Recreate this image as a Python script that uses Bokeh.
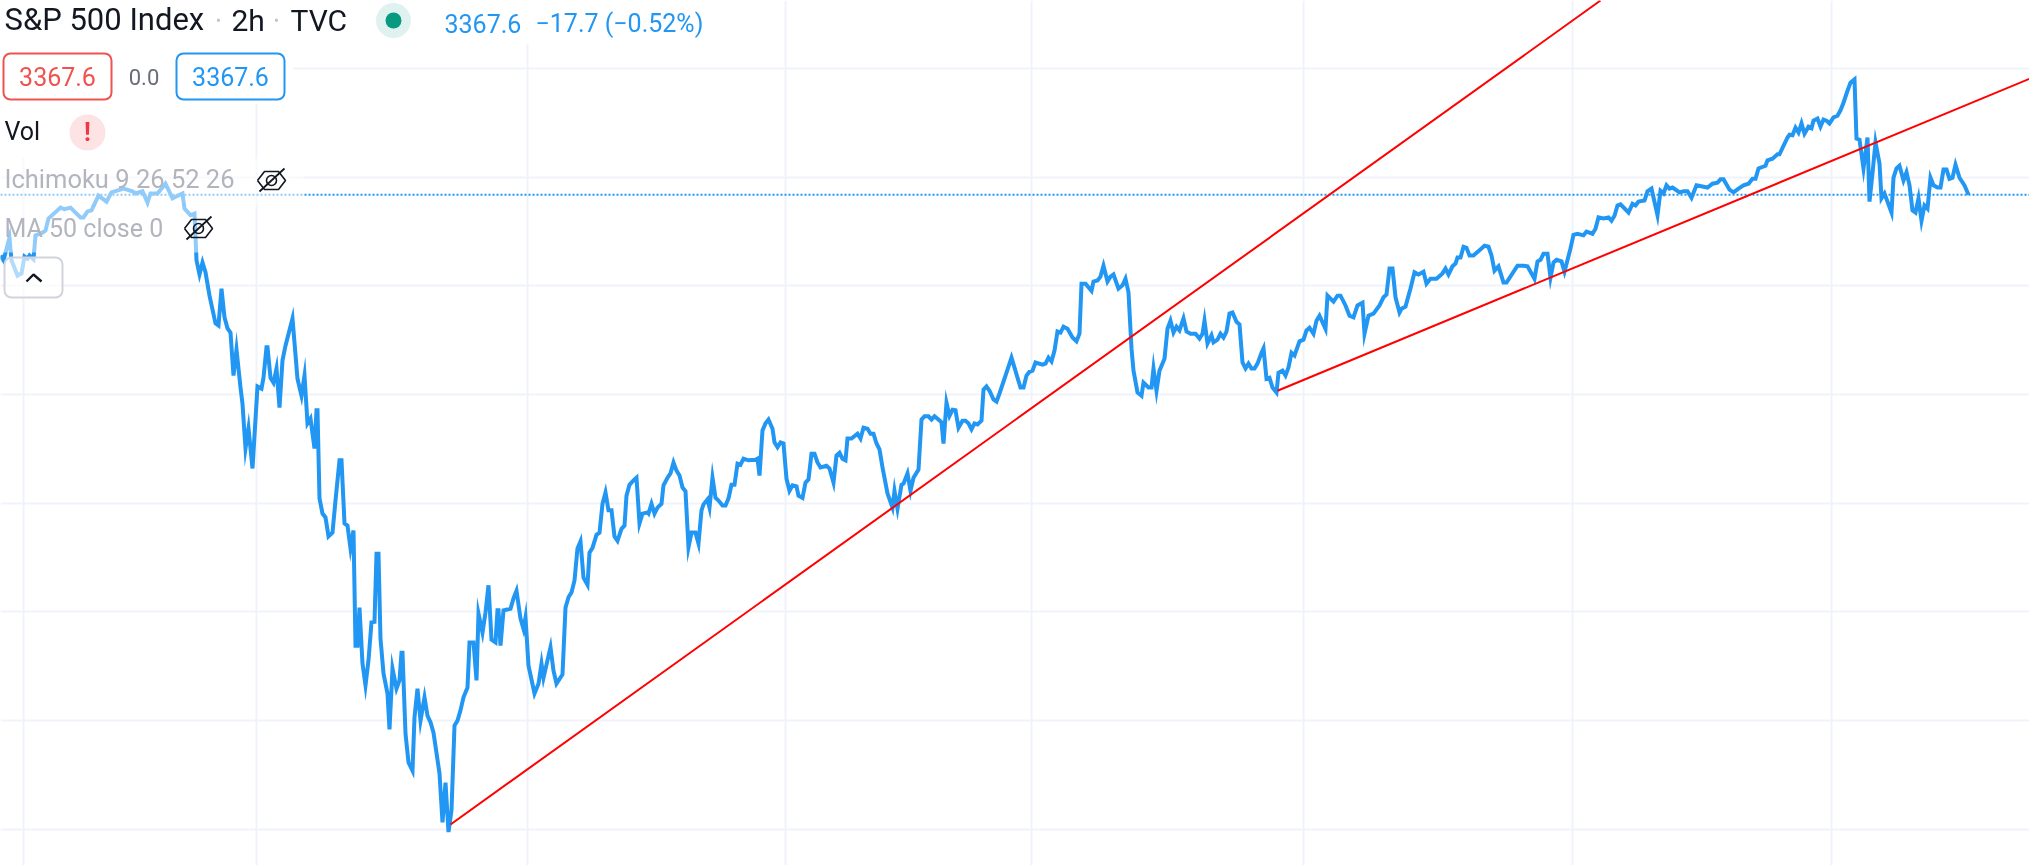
from bokeh.plotting import figure
from bokeh.embed import file_html
from bokeh.resources import INLINE
from bokeh.core.properties import value
from bokeh.models import Range1d, FixedTicker

# ---- data: bar position and 2h close of the S&P 500 ----
bar_x = [0,3,9,11,17,21,24,27,29,33,35,42,45,48,60,64,70,80,83,87,91,98,106,111,123,132,135,142,147,150,157,165,172,182,184,190,194,196,199,202,205,209,215,218,221,224,227,230,233,236,240,242,245,248,252,257,261,263,266,267,270,273,276,279,282,285,292,297,301,304,307,310,314,316,317,319,322,325,328,332,335,339,341,344,347,350,353,355,357,359,362,365,368,371,374,376,378,380,383,387,389,392,396,399,401,402,405,408,412,414,417,420,424,427,430,433,439,442,445,448,451,454,457,460,463,467,469,473,476,478,482,485,488,491,495,497,498,500,503,510,513,516,520,523,525,528,534,538,541,543,550,553,556,562,565,568,571,574,577,580,583,587,589,592,596,599,602,605,608,611,614,617,621,624,626,629,633,636,639,642,647,648,651,654,657,661,663,667,670,673,676,679,682,685,688,691,695,698,701,703,707,709,712,715,718,722,725,728,731,734,737,740,743,748,755,757,759,762,765,768,772,774,777,780,783,786,789,792,796,798,802,805,808,811,814,817,820,826,829,833,836,839,842,845,847,851,857,860,863,867,870,873,876,879,882,887,892,894,897,901,903,907,910,913,918,921,924,928,931,934,938,941,943,946,949,952,955,958,962,965,968,971,974,977,981,983,986,989,993,996,999,1005,1011,1020,1023,1026,1029,1032,1035,1042,1045,1048,1051,1054,1057,1060,1063,1067,1072,1076,1079,1081,1085,1091,1093,1097,1100,1103,1107,1110,1113,1118,1122,1125,1128,1131,1133,1137,1141,1143,1148,1151,1153,1156,1159,1164,1167,1170,1173,1176,1179,1183,1186,1190,1195,1199,1202,1204,1207,1211,1213,1217,1220,1223,1226,1229,1232,1236,1239,1242,1245,1248,1251,1254,1257,1261,1263,1266,1269,1272,1276,1278,1282,1285,1288,1291,1294,1299,1303,1306,1309,1313,1316,1319,1325,1327,1333,1337,1340,1345,1349,1353,1357,1362,1364,1368,1373,1379,1383,1386,1389,1392,1395,1399,1401,1405,1410,1414,1418,1423,1426,1430,1436,1442,1445,1448,1452,1455,1457,1460,1463,1466,1469,1473,1481,1484,1488,1491,1494,1498,1503,1506,1517,1523,1527,1534,1537,1540,1543,1547,1550,1553,1556,1561,1564,1570,1573,1577,1583,1586,1592,1595,1598,1603,1608,1611,1614,1617,1620,1628,1632,1635,1638,1644,1647,1651,1657,1660,1663,1666,1669,1672,1679,1683,1687,1691,1696,1707,1712,1717,1720,1723,1729,1733,1738,1743,1748,1752,1755,1758,1765,1767,1772,1777,1779,1787,1789,1792,1795,1798,1801,1804,1808,1811,1813,1817,1820,1823,1826,1829,1833,1837,1840,1843,1847,1850,1854,1856,1859,1863,1867,1869,1872,1875,1879,1881,1884,1891,1893,1896,1899,1903,1906,1909,1912,1915,1918,1921,1924,1927,1930,1933,1937,1940,1943,1946,1949,1952,1955,1959,1964,1968]
close = [3256,3247,3289,3247,3219,3223,3254,3250,3256,3249,3293,3298,3302,3324,3344,3341,3344,3326,3326,3337,3339,3366,3355,3372,3379,3374,3370,3374,3353,3370,3370,3388,3361,3370,3342,3330,3333,3247,3221,3243,3225,3182,3131,3127,3195,3142,3122,3114,3035,3083,3013,2983,2901,2938,2864,3015,3011,3031,3087,3087,3031,3022,3048,2976,3063,3090,3140,3029,2998,3035,2947,2956,2901,2971,2971,2809,2781,2774,2739,2746,2805,2879,2879,2763,2759,2717,2750,2538,2538,2608,2505,2465,2511,2581,2582,2707,2707,2551,2487,2450,2384,2496,2459,2474,2525,2525,2376,2323,2308,2406,2459,2400,2443,2409,2397,2378,2303,2213,2286,2195,2235,2391,2400,2419,2443,2461,2544,2544,2474,2597,2562,2599,2649,2549,2544,2603,2603,2538,2603,2606,2625,2639,2588,2569,2590,2501,2450,2468,2505,2479,2535,2492,2468,2485,2608,2627,2636,2658,2717,2730,2663,2650,2709,2718,2742,2746,2799,2820,2787,2787,2739,2731,2753,2759,2814,2834,2842,2847,2763,2781,2783,2781,2799,2781,2792,2799,2833,2847,2855,2875,2860,2851,2829,2822,2719,2746,2746,2726,2787,2798,2807,2792,2847,2810,2805,2796,2796,2809,2834,2834,2873,2871,2882,2879,2880,2882,2851,2934,2947,2954,2937,2912,2903,2912,2910,2845,2823,2833,2831,2814,2810,2838,2844,2891,2891,2875,2866,2869,2864,2838,2888,2893,2882,2879,2919,2919,2928,2919,2939,2937,2928,2928,2910,2899,2866,2818,2792,2823,2790,2834,2836,2855,2823,2847,2862,2954,2960,2960,2954,2960,2954,2949,2910,2985,2961,2972,2971,2939,2952,2952,2947,2936,2947,2945,2952,3009,3015,3007,2991,2987,3002,3035,3068,3013,3013,3035,3042,3044,3059,3055,3057,3068,3061,3081,3116,3114,3125,3121,3105,3098,3112,3204,3204,3191,3208,3210,3217,3237,3208,3217,3221,3195,3201,3213,3188,3085,3044,3004,2998,3022,3013,3013,3048,3007,3044,3066,3121,3136,3114,3125,3118,3140,3116,3112,3112,3103,3112,3136,3094,3109,3096,3101,3112,3105,3116,3149,3151,3134,3129,3059,3048,3057,3048,3048,3057,3077,3085,3029,3031,3013,3004,3040,3044,3035,3050,3077,3072,3098,3101,3118,3123,3112,3136,3145,3121,3182,3171,3182,3182,3164,3145,3142,3164,3169,3112,3145,3149,3164,3179,3184,3232,3232,3179,3151,3158,3162,3195,3225,3221,3226,3204,3213,3213,3223,3232,3221,3236,3241,3252,3252,3272,3270,3256,3256,3269,3274,3272,3256,3228,3236,3206,3206,3237,3237,3236,3213,3245,3248,3259,3259,3215,3243,3248,3245,3226,3269,3294,3296,3293,3300,3296,3305,3326,3324,3326,3320,3329,3348,3350,3335,3351,3348,3355,3357,3374,3379,3330,3375,3370,3385,3379,3381,3372,3374,3374,3362,3385,3381,3388,3390,3396,3396,3377,3372,3379,3385,3388,3397,3397,3416,3421,3431,3434,3442,3442,3473,3478,3477,3491,3482,3499,3480,3493,3490,3504,3508,3493,3506,3504,3499,3510,3513,3523,3537,3559,3574,3580,3471,3469,3416,3473,3355,3407,3464,3425,3361,3370,3335,3399,3416,3421,3394,3409,3385,3339,3335,3361,3320,3348,3342,3399,3385,3381,3381,3414,3414,3397,3399,3423,3399,3385,3367.6]
last_price = 3367.6
price_levels = [2200, 2400, 2600, 2800, 3000, 3200, 3400, 3600]
period_bars = [23, 256, 527, 785, 1031, 1303, 1572, 1831]
trend_a_x = [450, 1600]
trend_a_y = [2209, 3725]
trend_b_x = [1277, 2029]
trend_b_y = [3007, 3581]

BLUE = "#2196F3"
FONT = value("Roboto")

p = figure(width=2029, height=865, output_backend="svg", toolbar_location=None,
           x_range=Range1d(0, 2029), y_range=Range1d(2133.5, 3725.1),
           min_border=0, min_border_left=0, min_border_right=0, min_border_top=0, min_border_bottom=0,
           outline_line_color=None, background_fill_color="white", border_fill_color="white")
p.styles = {"position": "fixed", "left": "0px", "top": "0px"}
p.axis.visible = False
p.xgrid.ticker = FixedTicker(ticks=period_bars)
p.ygrid.ticker = FixedTicker(ticks=price_levels)
p.grid.grid_line_color = "#F1F3FA"
p.grid.grid_line_width = 2

# overlay coordinate system in page pixels for the legend block
p.extra_x_ranges["px"] = Range1d(0, 2029)
p.extra_y_ranges["px"] = Range1d(865, 0)
OV = dict(x_range_name="px", y_range_name="px")

p.line([0, 2029], [last_price, last_price], line_color=BLUE, line_width=2, line_dash="2 2")
p.line(bar_x, close, line_color=BLUE, line_width=4, line_join="miter")
p.line(trend_a_x, trend_a_y, line_color="#FF0000", line_width=2)
p.line(trend_b_x, trend_b_y, line_color="#FF0000", line_width=2)

# legend row backgrounds
p.quad(left=[0, 0, 0], right=[715, 293, 250], top=[0, 43, 103], bottom=[43, 103, 158],
       fill_color="white", line_color=None, **OV)
p.quad(left=[0, 0], right=[303, 222], top=[158, 205], bottom=[205, 252],
       fill_color="white", fill_alpha=0.5, line_color=None, **OV)


def txt(x, y, s, size, color, align="left", weight="normal"):
    # the svg text sits lower than its anchor by about 0.38 em
    p.text([x], [y - 0.38 * size], text=[s], text_font=FONT, text_font_size=f"{size}px",
           text_color=color, text_baseline="alphabetic", text_align=align, text_font_style=weight, **OV)


txt(4, 31, "S&P 500 Index", 31, "#131722")
txt(218, 26, "•", 16, "#C4C7CF", "center")
txt(231, 31, "2h", 30, "#131722")
txt(276, 26, "•", 16, "#C4C7CF", "center")
txt(290, 31, "TVC", 30, "#131722")
p.circle([393], [20], radius=17.5, fill_color="#E0F2EF", line_color=None, **OV)
p.circle([393], [20], radius=8, fill_color="#089981", line_color=None, **OV)
txt(444, 32, "3367.6", 25, BLUE)
txt(535, 32, "−17.7 (−0.52%)", 25, BLUE)

# price boxes
p.rect([57], [76], width=108, height=46, fill_color="white", line_color="#EF5350", line_width=2,
       border_radius=7, **OV)
p.rect([230], [76], width=108, height=46, fill_color="white", line_color=BLUE, line_width=2,
       border_radius=7, **OV)
txt(57, 85, "3367.6", 25, "#EF5350", "center")
txt(143.5, 85, "0.0", 22, "#6A6D78", "center")
txt(230, 85, "3367.6", 25, BLUE, "center")

txt(4, 140, "Vol", 25, "#131722")
p.circle([87], [132], radius=18, fill_color="#FDE3E4", line_color=None, **OV)
txt(87, 141, "!", 25, "#F23645", "center", "bold")

txt(4, 188, "Ichimoku 9 26 52 26", 25.5, "#B2B5BE")
txt(4, 237, "MA 50 close 0", 25, "#B2B5BE")

# hidden-eye icons
for cx, cy in [(271, 180), (198, 228)]:
    p.line([cx - 14, cx - 7, cx + 7, cx + 14, cx + 7, cx - 7, cx - 14],
           [cy, cy - 9, cy - 9, cy, cy + 9, cy + 9, cy], line_color="#131722", line_width=1.6, **OV)
    p.circle([cx], [cy], radius=5, fill_color=None, line_color="#131722", line_width=1.6, **OV)
    p.line([cx - 12, cx + 13], [cy + 11, cy - 12], line_color="#131722", line_width=1.8, **OV)

# collapse button
p.rect([33], [277], width=58, height=40, fill_color="white", fill_alpha=0.65, line_color="#D1D4DC",
       line_width=2, border_radius=7, **OV)
p.line([26, 33, 41], [281, 274, 281], line_color="#131722", line_width=2.4, **OV)

open("out.html", "w").write(file_html(p, INLINE))
